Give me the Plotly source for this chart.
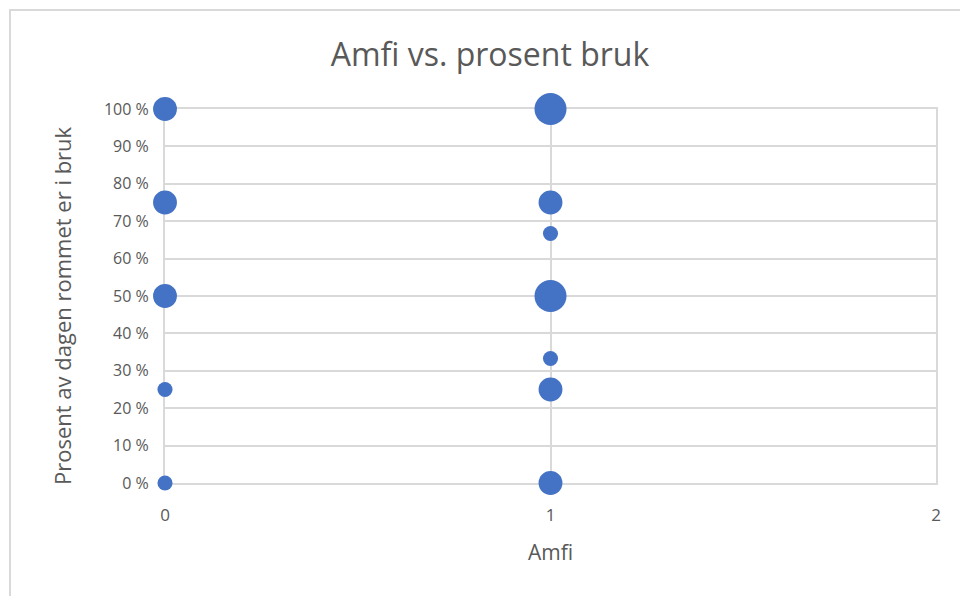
import math
import plotly.graph_objects as go

# Amfi (0 = nei, 1 = ja) against share of the day the room is in use
amfi = [0, 0, 0, 0, 0, 1, 1, 1, 1, 1, 1, 1]
prosent_bruk = [1.0, 0.75, 0.5, 0.25, 0.0, 1.0, 0.75, 0.667, 0.5, 0.333, 0.25, 0.0]
antall_rom = [5, 5, 5, 2, 2, 9, 5, 2, 9, 2, 5, 5]

y_tickvals = [0, 0.1, 0.2, 0.3, 0.4, 0.5, 0.6, 0.7, 0.8, 0.9, 1.0]
y_ticktext = ["0 %", "10 %", "20 %", "30 %", "40 %", "50 %", "60 %", "70 %", "80 %", "90 %", "100 %"]
x_tickvals = [0, 1, 2]

W, H = 960, 596
L, R, T, B = 165, 24, 109, 113
pw, ph = W - L - R, H - T - B

TXT = "#595959"
GRID = "#D9D9D9"
FONT = "Open Sans, Noto Sans, sans-serif"

# bubble area proportional to count; largest bubble 32 px across
MAX_D = 32
diam = [MAX_D * math.sqrt(v / max(antall_rom)) for v in antall_rom]

fig = go.Figure(
    go.Scatter(
        x=amfi,
        y=prosent_bruk,
        mode="markers",
        marker=dict(
            size=diam,
            sizemode="diameter",
            color="#4472C4",
            line=dict(width=0),
            opacity=1,
        ),
        customdata=antall_rom,
        cliponaxis=False,
        hovertemplate="Amfi: %{x}<br>%{y:.0%}<br>Antall: %{customdata}<extra></extra>",
    )
)

# outer chart frame
fig.add_shape(
    type="rect",
    xref="paper", yref="paper",
    x0=(10 - L) / pw, x1=(W + 5 - L) / pw,
    y0=(H - B - (H + 5)) / ph, y1=(H - B - 10) / ph,
    line=dict(color=GRID, width=2),
    fillcolor="rgba(0,0,0,0)",
    layer="below",
)

# vertical axis title
fig.add_annotation(
    text="Prosent av dagen rommet er i bruk",
    xref="paper", yref="paper",
    x=(62 - L) / pw, y=(H - B - 306) / ph,
    xanchor="center", yanchor="middle",
    textangle=-90, showarrow=False,
    font=dict(size=22, color=TXT, family=FONT),
)

axis_common = dict(
    showgrid=True, gridcolor=GRID, gridwidth=2,
    zeroline=False,
    showline=True, linecolor=GRID, linewidth=2, mirror=True,
    ticks="", layer="below traces",
    fixedrange=True,
)

fig.update_layout(
    width=W, height=H,
    margin=dict(l=L, r=R, t=T, b=B),
    paper_bgcolor="white",
    plot_bgcolor="white",
    showlegend=False,
    font=dict(family=FONT, color=TXT),
    title=dict(
        text="Amfi vs. prosent bruk",
        x=490 / W, xanchor="center",
        y=1 - 55 / H, yanchor="middle",
        font=dict(size=32, color=TXT, family=FONT),
    ),
    xaxis=dict(
        range=[0, 2],
        tickvals=x_tickvals,
        ticktext=[str(v) for v in x_tickvals],
        ticklabelstandoff=16,
        tickfont=dict(size=17, color=TXT),
        title=dict(text="Amfi", font=dict(size=21, color=TXT), standoff=20),
        **axis_common,
    ),
    yaxis=dict(
        range=[0, 1],
        tickvals=y_tickvals,
        ticktext=y_ticktext,
        ticklabelstandoff=11,
        tickfont=dict(size=16, color=TXT),
        **axis_common,
    ),
)

fig.write_html("out.html")
